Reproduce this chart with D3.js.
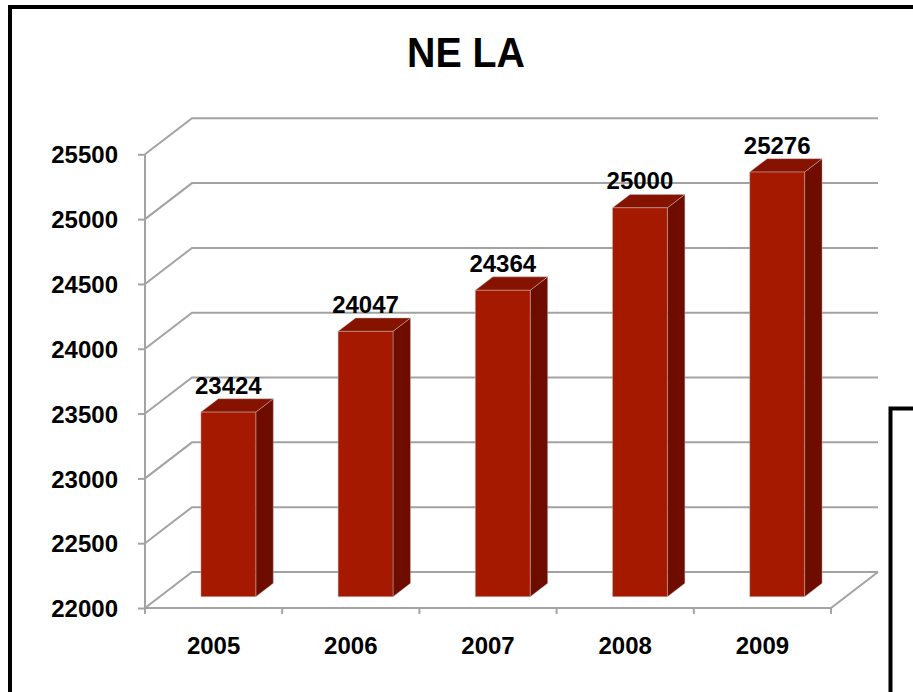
<!DOCTYPE html>
<html>
<head>
<meta charset="utf-8">
<script src="https://cdn.jsdelivr.net/npm/d3@7"></script>
<style>
  html, body { margin: 0; padding: 0; background: #fff; overflow: hidden; }
  svg { display: block; }
  text { font-family: "Liberation Sans", Arial, sans-serif; font-weight: bold; fill: #000; }
</style>
</head>
<body>
<svg id="chart" width="913" height="692"></svg>
<script>
const title = "NE LA";
const years = ["2005", "2006", "2007", "2008", "2009"];
const values = [23424, 24047, 24364, 25000, 25276];
const yTicks = [22000, 22500, 23000, 23500, 24000, 24500, 25000, 25500];

(function () {
const svg = d3.select("#chart");
const W = 913, H = 692;

// plot geometry (front plane + depth offset)
const pLeft = 145, pRight = 831, pBottom = 608, pTop = 154.3;
const DX = 47, DY = -36;          // depth of the 3D box
const fFront = 0.314, fBack = 0.686; // bar depth placement

const x = d3.scaleBand().domain(years).range([pLeft, pRight]).paddingInner(0.6).paddingOuter(0.3);
const y = d3.scaleLinear().domain([22000, 25500]).range([pBottom, pTop]);

const grid = "#a3a3a3";

// back wall gridlines + left wall diagonals
const gl = svg.append("g").attr("fill", "none").attr("stroke", grid).attr("stroke-width", 2);
yTicks.forEach(t => {
  gl.append("path").attr("d", `M${pLeft},${y(t)} L${pLeft + DX},${y(t) + DY} L${pRight + DX},${y(t) + DY}`);
});
// floor front and right edges
gl.append("path").attr("d", `M${pLeft},${pBottom} L${pRight},${pBottom} L${pRight + DX},${pBottom + DY}`);
// category boundary ticks
const step = x.step();
for (let i = 0; i <= years.length; i++) {
  const xx = pLeft + i * step;
  gl.append("line").attr("x1", xx).attr("x2", xx).attr("y1", pBottom).attr("y2", pBottom + 6);
}

// y axis
const yAxis = d3.axisLeft(y).tickValues(yTicks).tickSize(7).tickPadding(20).tickFormat(d3.format("d"));
const ya = svg.append("g").attr("transform", `translate(${pLeft},0)`).call(yAxis);
ya.select(".domain").attr("stroke", grid).attr("stroke-width", 2).attr("d", `M0,${pTop} V${pBottom}`);
ya.selectAll(".tick line").attr("stroke", grid).attr("stroke-width", 2);
ya.selectAll(".tick text").attr("font-size", 24).attr("font-family", "Liberation Sans, Arial, sans-serif")
  .attr("font-weight", "bold").attr("fill", "#000").attr("dy", "0.36em");

// x axis labels
const xAxis = d3.axisBottom(x).tickSize(0).tickPadding(0);
const xa = svg.append("g").attr("transform", `translate(0,${pBottom})`).call(xAxis);
xa.select(".domain").remove();
xa.selectAll(".tick text").attr("font-size", 24).attr("font-family", "Liberation Sans, Arial, sans-serif")
  .attr("font-weight", "bold").attr("fill", "#000").attr("dy", null).attr("y", 46);

// bars
const bw = x.bandwidth();
const ddx = (fBack - fFront) * DX, ddy = (fBack - fFront) * DY;
const bars = svg.append("g");
years.forEach((yr, i) => {
  const bx = x(yr) + fFront * DX;
  const yt = y(values[i]) + fFront * DY;
  const yb = y(22000) + fFront * DY;
  const g = bars.append("g").attr("stroke", "rgba(200,190,190,0.55)").attr("stroke-width", 0.8).attr("stroke-linejoin", "round");
  g.append("path").attr("fill", "#6e0c00")
    .attr("d", `M${bx + bw},${yt} L${bx + bw + ddx},${yt + ddy} L${bx + bw + ddx},${yb + ddy} L${bx + bw},${yb} Z`);
  g.append("path").attr("fill", "#861200")
    .attr("d", `M${bx},${yt} L${bx + ddx},${yt + ddy} L${bx + bw + ddx},${yt + ddy} L${bx + bw},${yt} Z`);
  g.append("rect").attr("fill", "#a51900")
    .attr("x", bx).attr("y", yt).attr("width", bw).attr("height", yb - yt);
  svg.append("text").attr("x", bx + bw / 2).attr("y", yt + ddy - 5)
    .attr("text-anchor", "middle").attr("font-size", 24).text(values[i]);
});

// title
svg.append("text").attr("x", 466).attr("y", 67).attr("text-anchor", "middle")
  .attr("font-size", 42).attr("textLength", 118).attr("lengthAdjust", "spacingAndGlyphs").text(title);

// outer frame (extends beyond the view)
svg.append("path").attr("fill", "none").attr("stroke", "#000").attr("stroke-width", 4)
  .attr("d", `M10,${H + 10} L10,7 L${W + 10},7`);
// second frame at lower right
svg.append("path").attr("fill", "none").attr("stroke", "#000").attr("stroke-width", 4)
  .attr("d", `M890.5,${H + 10} L890.5,408.5 L${W + 10},408.5`);
})();
</script>
</body>
</html>
